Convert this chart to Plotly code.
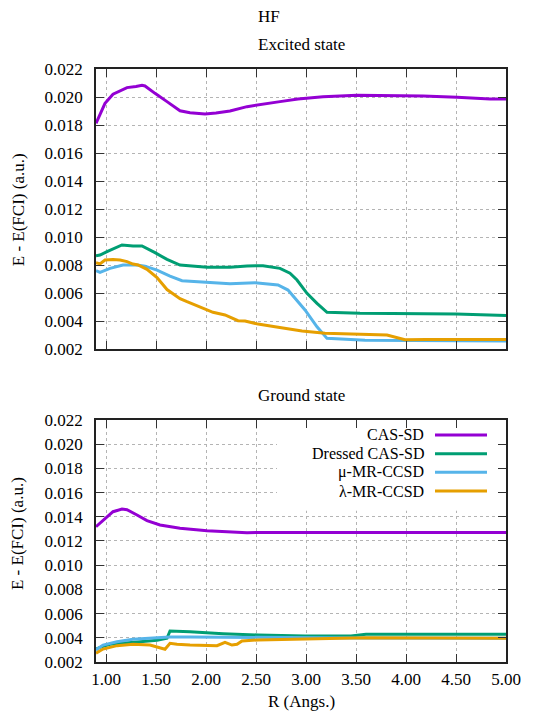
import plotly.graph_objects as go

# ---------------- data ----------------
series_names = ["CAS-SD", "Dressed CAS-SD", "\u03bc-MR-CCSD", "\u03bb-MR-CCSD"]
series_colors = ["#9400D3", "#009E73", "#56B4E9", "#E69F00"]

# Excited state
cassd_ex_x = [0.9, 0.99, 1.07, 1.14, 1.21, 1.3, 1.36, 1.39, 1.44, 1.49, 1.61, 1.74, 1.84, 1.99, 2.1, 2.24,
              2.41, 2.57, 2.74, 2.92, 3.17, 3.51, 3.84, 4.17, 4.51, 4.84, 5.0]
cassd_ex_y = [0.01812, 0.01955, 0.0202, 0.02045, 0.02067, 0.02075, 0.02083, 0.02079, 0.0205, 0.02026, 0.01967,
              0.01902, 0.01888, 0.01879, 0.01885, 0.019, 0.01931, 0.0195, 0.01967, 0.01986, 0.02002, 0.02012,
              0.02012, 0.02007, 0.01998, 0.01986, 0.01986]

dressed_ex_x = [0.9, 0.94, 1.01, 1.08, 1.16, 1.27, 1.36, 1.49, 1.61, 1.74, 2.01, 2.24, 2.41, 2.57, 2.74, 2.84,
                2.91, 3.01, 3.11, 3.21, 3.54, 4.5, 5.0]
dressed_ex_y = [0.00866, 0.00871, 0.00895, 0.0092, 0.00943, 0.00936, 0.00936, 0.00888, 0.0084, 0.0080, 0.00784,
                0.00784, 0.00793, 0.00795, 0.00776, 0.00741, 0.00693, 0.00598, 0.00526, 0.00462, 0.00455,
                0.00450, 0.00440]

mu_ex_x = [0.9, 0.94, 1.04, 1.17, 1.31, 1.39, 1.51, 1.64, 1.76, 1.99, 2.24, 2.49, 2.72, 2.82, 2.99, 3.11, 3.21,
           3.59, 5.0]
mu_ex_y = [0.00759, 0.00748, 0.00776, 0.008, 0.008, 0.00792, 0.00764, 0.00721, 0.00688, 0.00676, 0.00666,
           0.00674, 0.00657, 0.00621, 0.00479, 0.00359, 0.00276, 0.00262, 0.00257]

lam_ex_x = [0.9, 0.94, 0.99, 1.07, 1.14, 1.21, 1.27, 1.32, 1.41, 1.51, 1.61, 1.74, 1.81, 1.97, 2.07, 2.19, 2.24,
            2.32, 2.39, 2.52, 2.69, 2.96, 3.19, 3.59, 3.81, 3.99, 4.2, 5.0]
lam_ex_y = [0.00817, 0.00808, 0.00836, 0.0084, 0.00836, 0.00824, 0.00807, 0.008, 0.00769, 0.0071, 0.00625,
            0.0056, 0.00538, 0.00491, 0.00462, 0.00443, 0.00425, 0.00402, 0.0040, 0.00378, 0.00359, 0.00329,
            0.00312, 0.00305, 0.0030, 0.00266, 0.00268, 0.00268]

# Ground state
cassd_gs_x = [0.9, 0.99, 1.07, 1.16, 1.21, 1.31, 1.41, 1.54, 1.74, 2.01, 2.41, 2.74, 3.5, 4.5, 5.0]
cassd_gs_y = [0.01318, 0.01388, 0.01442, 0.01464, 0.01458, 0.01415, 0.01368, 0.01332, 0.01305, 0.01285,
              0.01269, 0.0127, 0.01272, 0.01272, 0.0127]

dressed_gs_x = [0.9, 0.94, 1.04, 1.17, 1.34, 1.51, 1.61, 1.64, 1.84, 2.17, 2.52, 2.99, 3.45, 3.6, 5.0]
dressed_gs_y = [0.00307, 0.00321, 0.00346, 0.00357, 0.00368, 0.00379, 0.00396, 0.00456, 0.0045, 0.00434,
                0.00423, 0.00415, 0.00415, 0.0043, 0.0043]

mu_gs_x = [0.9, 0.97, 1.11, 1.27, 1.51, 1.64, 1.84, 2.24, 3.0, 3.5, 5.0]
mu_gs_y = [0.0030, 0.0034, 0.00368, 0.00388, 0.0040, 0.00407, 0.00407, 0.00405, 0.00405, 0.00398, 0.00397]

lam_gs_x = [0.9, 0.97, 1.11, 1.27, 1.44, 1.51, 1.59, 1.64, 1.71, 1.84, 1.97, 2.11, 2.19, 2.26, 2.31, 2.36,
            2.52, 2.99, 3.59, 5.0]
lam_gs_y = [0.00272, 0.00307, 0.00335, 0.00346, 0.0034, 0.00326, 0.00305, 0.00355, 0.00346, 0.0034, 0.00335,
            0.00335, 0.00363, 0.0034, 0.00346, 0.00374, 0.00382, 0.0039, 0.004, 0.00396]

x_ticks = [1.0, 1.5, 2.0, 2.5, 3.0, 3.5, 4.0, 4.5, 5.0]
y_ticks = [0.002, 0.004, 0.006, 0.008, 0.010, 0.012, 0.014, 0.016, 0.018, 0.020, 0.022]

# ---------------- figure ----------------
FONT = "Liberation Serif, Times New Roman, Times, serif"
FS = 17
fig = go.Figure()

excited = [(cassd_ex_x, cassd_ex_y), (dressed_ex_x, dressed_ex_y), (mu_ex_x, mu_ex_y), (lam_ex_x, lam_ex_y)]
ground = [(cassd_gs_x, cassd_gs_y), (dressed_gs_x, dressed_gs_y), (mu_gs_x, mu_gs_y), (lam_gs_x, lam_gs_y)]

for (xs, ys), name, col in zip(excited, series_names, series_colors):
    fig.add_trace(go.Scatter(x=xs, y=ys, mode="lines", name=name, showlegend=False,
                             line=dict(color=col, width=3), xaxis="x", yaxis="y"))
for (xs, ys), name, col in zip(ground, series_names, series_colors):
    fig.add_trace(go.Scatter(x=xs, y=ys, mode="lines", name=name, showlegend=False,
                             line=dict(color=col, width=3), xaxis="x2", yaxis="y2"))

axis_common = dict(showline=True, linecolor="#222222", linewidth=1.5, mirror="allticks",
                   ticks="inside", ticklen=8, tickwidth=1, tickcolor="#333333",
                   showgrid=True, gridcolor="#b4b4b4", griddash="dot", gridwidth=1,
                   zeroline=False, tickfont=dict(family=FONT, size=FS, color="black"))

fig.update_layout(
    width=538, height=718,
    margin=dict(l=88, r=40, t=61, b=64),
    paper_bgcolor="white", plot_bgcolor="white",
    font=dict(family=FONT, size=FS, color="black"),
    showlegend=False,
    xaxis=dict(axis_common, domain=[0, 1], range=[0.9, 5.0], tickvals=x_ticks, showticklabels=False,
               anchor="y"),
    yaxis=dict(axis_common, domain=[0.5278, 1], range=[0.002, 0.022], tickvals=y_ticks,
               tickformat=".3f", anchor="x", ticklabelstandoff=8),
    xaxis2=dict(axis_common, domain=[0, 1], range=[0.9, 5.0], tickvals=x_ticks, tickformat=".2f",
                anchor="y2", ticklabelstandoff=1),
    yaxis2=dict(axis_common, domain=[0, 0.4081], range=[0.002, 0.022], tickvals=y_ticks,
                tickformat=".3f", anchor="x2", ticklabelstandoff=8),
)

# opaque key box (covers the grid, not the border ticks)
fig.add_shape(type="rect", xref="x2", yref="y2", x0=2.71, x1=5.0, y0=0.0145, y1=0.022,
              fillcolor="white", line=dict(width=0), layer="between")

# key: right-aligned text with line sample on the right (gnuplot style)
key_y = [0.02076, 0.01921, 0.01768, 0.01613]
for name, col, ky in zip(series_names, series_colors, key_y):
    fig.add_annotation(x=4.19, y=ky, xref="x2", yref="y2", text=name, showarrow=False,
                       xanchor="right", yanchor="middle", borderpad=0,
                       font=dict(family=FONT, size=16, color="black"))
    fig.add_shape(type="line", xref="x2", yref="y2", x0=4.29, x1=4.81, y0=ky, y1=ky,
                  line=dict(color=col, width=3))

# titles
fig.add_annotation(x=0.422, y=1.0877, xref="paper", yref="paper", text="HF", showarrow=False,
                   xanchor="center", yanchor="middle", font=dict(family=FONT, size=FS))
fig.add_annotation(x=0.5, y=1.0405, xref="paper", yref="paper", text="Excited state", showarrow=False,
                   xanchor="center", yanchor="middle", font=dict(family=FONT, size=FS))
fig.add_annotation(x=0.5, y=0.450, xref="paper", yref="paper", text="Ground state", showarrow=False,
                   xanchor="center", yanchor="middle", font=dict(family=FONT, size=FS))
fig.add_annotation(x=-0.19, y=0.762, xref="paper", yref="paper", text="E - E(FCI) (a.u.)", showarrow=False,
                   textangle=-90, xanchor="center", yanchor="middle", borderpad=0,
                   font=dict(family=FONT, size=FS))
fig.add_annotation(x=-0.19, y=0.216, xref="paper", yref="paper", text="E - E(FCI) (a.u.)", showarrow=False,
                   textangle=-90, xanchor="center", yanchor="middle", borderpad=0,
                   font=dict(family=FONT, size=FS))
fig.add_annotation(x=0.5, y=-0.066, xref="paper", yref="paper", text="R (Angs.)", showarrow=False,
                   xanchor="center", yanchor="middle", font=dict(family=FONT, size=FS))

fig.write_html("out.html")
